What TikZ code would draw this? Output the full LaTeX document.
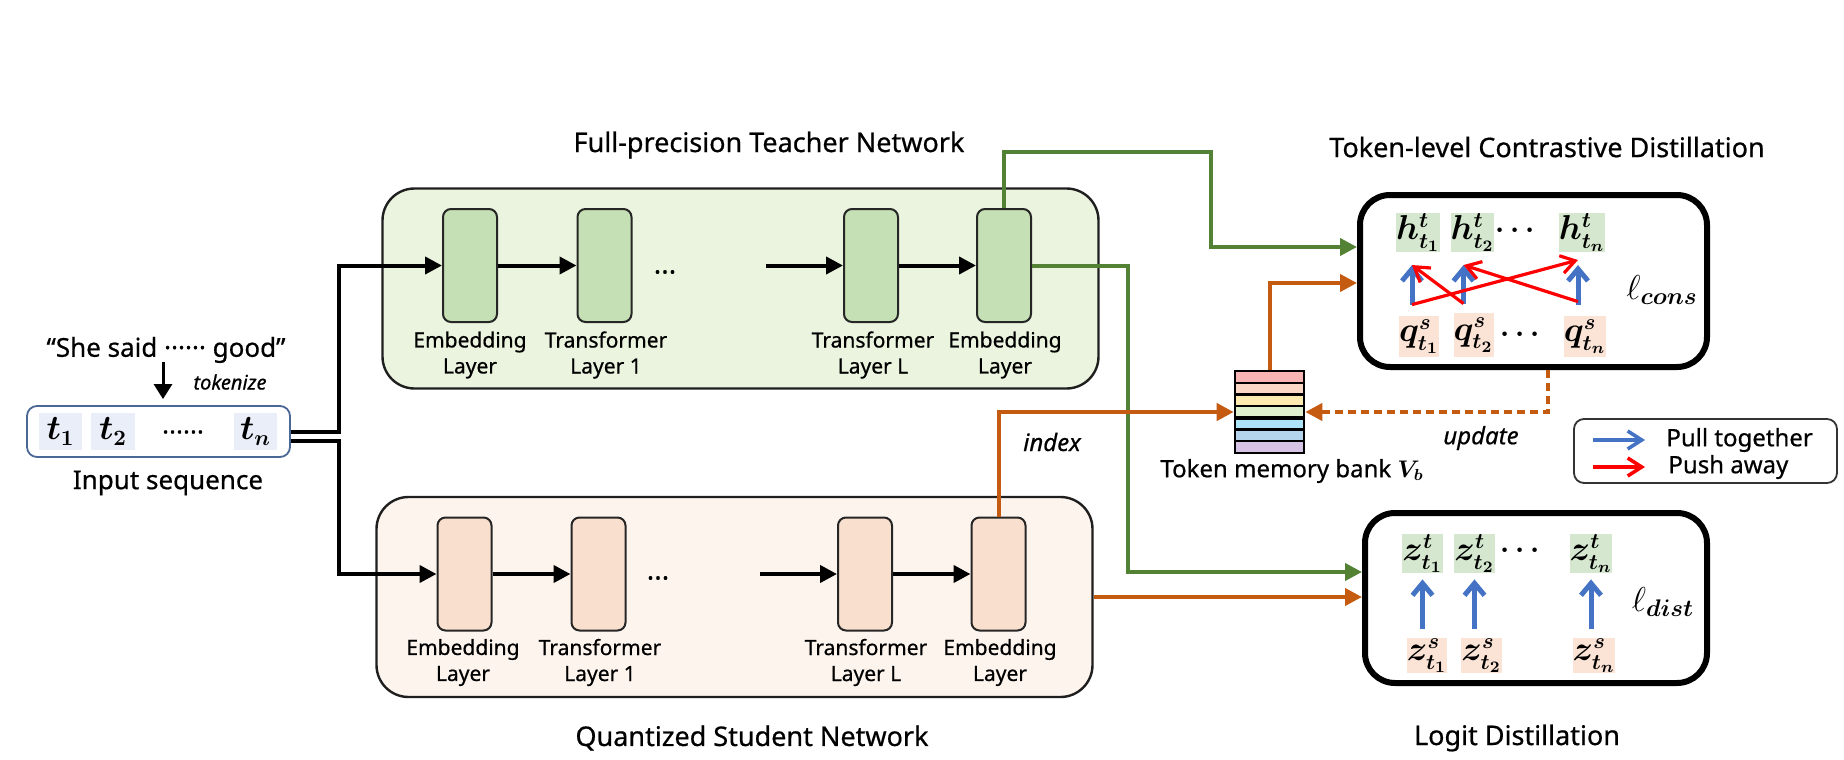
\documentclass[tikz,border=0pt]{standalone}
\usepackage[no-math]{fontspec}
\setmainfont{Noto Sans}[FakeBold=0.6]
\usepackage{bm}
\usetikzlibrary{arrows.meta,calc}
\definecolor{tfill}{HTML}{EAF4DE}
\definecolor{tblk}{HTML}{C5E0B4}
\definecolor{sfill}{HTML}{FDF4EE}
\definecolor{sblk}{HTML}{F9DFCD}
\definecolor{gline}{HTML}{548235}
\definecolor{oline}{HTML}{C55A11}
\definecolor{hfill}{HTML}{D5E8CF}
\definecolor{qfill}{HTML}{FBE3D6}
\definecolor{tokfill}{HTML}{E9EEF8}
\definecolor{pullblue}{HTML}{4472C4}
\definecolor{inpborder}{HTML}{4A6795}
\definecolor{bkA}{HTML}{F9B4B4}
\definecolor{bkB}{HTML}{FBD8C5}
\definecolor{bkC}{HTML}{FDEAB0}
\definecolor{bkD}{HTML}{DEF0CD}
\definecolor{bkE}{HTML}{AEE4F7}
\definecolor{bkF}{HTML}{B3D4EC}
\definecolor{bkG}{HTML}{D6C3E5}
\newcommand\fsz[2]{\fontsize{#1}{#2}\selectfont}
\begin{document}
\begin{tikzpicture}[x=0.5pt,y=-0.5pt,
  title/.style={font=\fsz{13.5}{16}, inner sep=0},
  netbox/.style={draw=black!88, line width=1.2pt, rounded corners=16pt, minimum width=358pt, minimum height=100pt, inner sep=0},
  blk/.style={draw=black!85, line width=1pt, rounded corners=4pt, minimum width=27pt, minimum height=56.5pt, inner sep=0},
  lbl/.style={font=\fsz{10.5}{13}, align=center, inner sep=0},
  arr/.style={line width=2pt, -{Triangle[length=8.5pt,width=8.5pt]}},
  garr/.style={draw=gline, line width=2pt, -{Triangle[length=8.5pt,width=8.5pt]}},
  oarr/.style={draw=oline, line width=2pt, -{Triangle[length=8.5pt,width=8.5pt]}},
  tok/.style={inner sep=0, minimum width=20pt, minimum height=17.5pt, font=\fsz{16}{18}},
  pull/.style={draw=pullblue, line width=2.5pt, -{Straight Barb[length=6pt,width=10pt]}},
  push/.style={draw=red, line width=1.6pt, -{Straight Barb[length=7pt,width=9pt]}},
  legpull/.style={draw=pullblue, line width=1.8pt, -{Straight Barb[length=7pt,width=9pt]}},
  legpush/.style={draw=red, line width=1.8pt, -{Straight Barb[length=7pt,width=9pt]}},
  lossbox/.style={draw=black, line width=3pt, rounded corners=15pt, inner sep=0},
  plain/.style={inner sep=0}
]
\useasboundingbox (0,0) rectangle (1844,760);

% ---------------- input ----------------
\node[plain, font=\fsz{13}{15}] (quote) at (166,350) {“She said ······ good”};
\node[plain, font=\fsz{10}{12}\itshape] (tokz) at (230,382) {tokenize};
\node[draw=inpborder, line width=0.9pt, rounded corners=5pt, minimum width=131.5pt, minimum height=25.5pt, inner sep=0] (inp) at (158.5,431.5) {};
\node[inner sep=0, minimum width=21.5pt, minimum height=18.5pt, fill=tokfill, font=\fsz{16}{18}] (t1) at (60.5,431.5) {$\bm{t_1}$};
\node[inner sep=0, minimum width=22pt, minimum height=18.5pt, fill=tokfill, font=\fsz{16}{18}] (t2) at (113,431.5) {$\bm{t_2}$};
\node[plain, font=\fsz{13}{15}\bfseries] (tdots) at (183,432) {......};
\node[inner sep=0, minimum width=21.5pt, minimum height=18.5pt, fill=tokfill, font=\fsz{16}{18}] (tn) at (255.5,431.5) {$\bm{t_n}$};
\node[plain, font=\fsz{13}{15}] (inlbl) at (168,483) {Input sequence};
\coordinate (tka) at (163,362);
\draw[line width=1.5pt, -{Triangle[length=7.5pt,width=9pt]}, shorten >=3pt] (tka) -- (tka |- inp.north);

% ---------------- teacher ----------------
\node[title] (ttitle) at (769,145) {Full-precision Teacher Network};
\node[netbox, fill=tfill] (teacher) at (740.5,288.5) {};
\node[blk, fill=tblk] (tE1) at (470,265.5) {};
\node[blk, fill=tblk] (tT1) at (604.5,265.5) {};
\node[blk, fill=tblk] (tTL) at (871,265.5) {};
\node[blk, fill=tblk] (tE2) at (1004,265.5) {};
\node[lbl] (tE1l) at (470,355) {Embedding\\Layer};
\node[lbl] (tT1l) at (606,355) {Transformer\\Layer 1};
\node[lbl] (tTLl) at (873,355) {Transformer\\Layer L};
\node[lbl] (tE2l) at (1005,355) {Embedding\\Layer};
\node[plain, font=\fsz{14}{16}\bfseries] (tdots2) at (665,272) {...};
\coordinate (tTLin) at (766,265.5);
\draw[arr] (tE1.east) -- (tT1.west);
\draw[arr] (tTLin) -- (tTL.west);
\draw[arr] (tTL.east) -- (tE2.west);

% ---------------- student ----------------
\node[title] (stitle) at (752,738) {Quantized Student Network};
\node[netbox, fill=sfill] (student) at (734.5,597) {};
\node[blk, fill=sblk] (sE1) at (464.5,574) {};
\node[blk, fill=sblk] (sT1) at (598.5,574) {};
\node[blk, fill=sblk] (sTL) at (865,574) {};
\node[blk, fill=sblk] (sE2) at (998.5,574) {};
\node[lbl] (sE1l) at (463,662.5) {Embedding\\Layer};
\node[lbl] (sT1l) at (600,662.5) {Transformer\\Layer 1};
\node[lbl] (sTLl) at (866,662.5) {Transformer\\Layer L};
\node[lbl] (sE2l) at (1000,662.5) {Embedding\\Layer};
\node[plain, font=\fsz{14}{16}\bfseries] (sdots2) at (658,578) {...};
\coordinate (sTLin) at (760,574);
\draw[arr] (sE1.east) -- (sT1.west);
\draw[arr] (sTLin) -- (sTL.west);
\draw[arr] (sTL.east) -- (sE2.west);

% input to networks
\draw[arr] (inp.east) -- ++(48,0) |- (tE1.west);
\draw[arr] ($(inp.east)+(0,9)$) -- ++(48,0) |- (sE1.west);

% ---------------- memory bank ----------------
\foreach \c [count=\i from 0] in {bkA,bkB,bkC,bkD,bkE,bkF,bkG}
  \fill[\c] (1235,{371+\i*11.714}) rectangle ++(69,11.714);
\foreach \i in {1,2,3,5,6}
  \draw[line width=1.1pt] (1235,{371+\i*11.714}) -- ++(69,0);
\draw[line width=2pt] (1235,{371+4*11.714}) -- ++(69,0);
\node[draw, line width=1.3pt, minimum width=34.5pt, minimum height=41pt, inner sep=0] (bank) at (1269.5,412) {};
\node[plain, font=\fsz{12}{14}] (banklbl) at (1292,471) {Token memory bank $\bm{V_b}$};

% ---------------- contrastive box ----------------
\node[title] (ctitle) at (1547,147) {Token-level Contrastive Distillation};
\node[lossbox, minimum width=173.5pt, minimum height=86pt] (cons) at (1533.5,281) {};
\node[tok, fill=hfill] (h1) at (1418,232.5) {$\bm{h^{t}_{t_1}}$};
\node[tok, fill=hfill] (h2) at (1472.5,232.5) {$\bm{h^{t}_{t_2}}$};
\node[plain, font=\fsz{15}{17}] (hdots) at (1515,231) {$\bm{\cdots}$};
\node[tok, fill=hfill] (hn) at (1582,232.5) {$\bm{h^{t}_{t_n}}$};
\node[tok, fill=qfill, minimum height=20.5pt] (q1) at (1419,336.5) {$\bm{q^{s}_{t_1}}$};
\node[tok, fill=qfill, minimum height=22pt] (q2) at (1473.5,335) {$\bm{q^{s}_{t_2}}$};
\node[plain, font=\fsz{15}{17}] (qdots) at (1520,335) {$\bm{\cdots}$};
\node[tok, fill=qfill, minimum height=20.5pt] (qn) at (1585,336.5) {$\bm{q^{s}_{t_n}}$};
\coordinate (qa1) at ($(q1.north)+(-7,-11)$);
\coordinate (qa2) at ($(q2.north)+(-10,-9)$);
\coordinate (qan) at ($(qn.north)+(-7,-11)$);
\coordinate (ha1) at ($(h1.south)+(-6,13)$);
\coordinate (ha2) at ($(h2.south)+(-9,13)$);
\coordinate (han) at ($(hn.south)+(-4,13)$);
\draw[pull] (qa1) -- (ha1);
\draw[pull] (qa2) -- (ha2);
\draw[pull] (qan) -- (han);
\draw[push] (qa1) -- ($(han)+(0,-5)$);
\draw[push] (qa2) -- (ha1);
\draw[push] ($(qan)+(0,-3)$) -- (ha2);
\node[plain, font=\fsz{17}{19}] (lcons) at (1662,290) {$\ell_{\bm{cons}}$};

% ---------------- logit box ----------------
\node[title] (ltitle) at (1517,738) {Logit Distillation};
\node[lossbox, minimum width=171pt, minimum height=85pt] (logit) at (1536,598) {};
\node[tok, fill=hfill, minimum height=19.5pt] (z1) at (1422.5,553.5) {$\bm{z^{t}_{t_1}}$};
\node[tok, fill=hfill, minimum height=19.5pt] (z2) at (1474.5,553.5) {$\bm{z^{t}_{t_2}}$};
\node[plain, font=\fsz{15}{17}] (zdots) at (1520,551) {$\bm{\cdots}$};
\node[tok, fill=hfill, minimum height=19.5pt] (zn) at (1591,553.5) {$\bm{z^{t}_{t_n}}$};
\node[tok, fill=qfill, minimum width=19pt] (w1) at (1427,655.5) {$\bm{z^{s}_{t_1}}$};
\node[tok, fill=qfill] (w2) at (1481.5,655.5) {$\bm{z^{s}_{t_2}}$};
\node[tok, fill=qfill] (wn) at (1594,655.5) {$\bm{z^{s}_{t_n}}$};
\draw[pull, shorten <=4.5pt, shorten >=3pt] (w1.north -| z1.south) -- (z1.south);
\draw[pull, shorten <=4.5pt, shorten >=3pt] (w2.north -| z2.south) -- (z2.south);
\draw[pull, shorten <=4.5pt, shorten >=3pt] (wn.north -| zn.south) -- (zn.south);
\node[plain, font=\fsz{17}{19}] (ldist) at (1663,602) {$\ell_{\bm{dist}}$};

% ---------------- connectors ----------------
\draw[garr] (tE2.north) |- (1211,152) |- ($(cons.west)+(0,-34)$);
\draw[oarr] (bank.north) |- ($(cons.west)+(0,2)$);
\draw[garr] (tE2.east) -- ++(96,0) |- ($(logit.west)+(0,-26)$);
\draw[oarr] (student.east) -- (student.east -| logit.west);
\draw[oarr] (sE2.north) |- (bank.west);
\node[plain, font=\fsz{12}{14}\itshape] (idxl) at (1052,442) {index};
\draw[oarr, dash pattern=on 4pt off 2.5pt] ($(cons.south)+(14.5,0)$) |- (bank.east);
\node[plain, font=\fsz{12}{14}\itshape] (updl) at (1481,438) {update};

% ---------------- legend ----------------
\node[draw=black!80, line width=0.9pt, rounded corners=5pt, minimum width=131.5pt, minimum height=32pt, inner sep=0] (leg) at (1705.5,451) {};
\coordinate (lpa) at (1593,440);
\coordinate (lpb) at (1645,440);
\coordinate (lqa) at (1593,467);
\coordinate (lqb) at (1645,467);
\draw[legpull] (lpa) -- (lpb);
\draw[legpush] (lqa) -- (lqb);
\node[plain, anchor=west, font=\fsz{12}{14}] (lpt) at (1666,440) {Pull together};
\node[plain, anchor=west, font=\fsz{12}{14}] (lqt) at (1668,467) {Push away};
\end{tikzpicture}
\end{document}
